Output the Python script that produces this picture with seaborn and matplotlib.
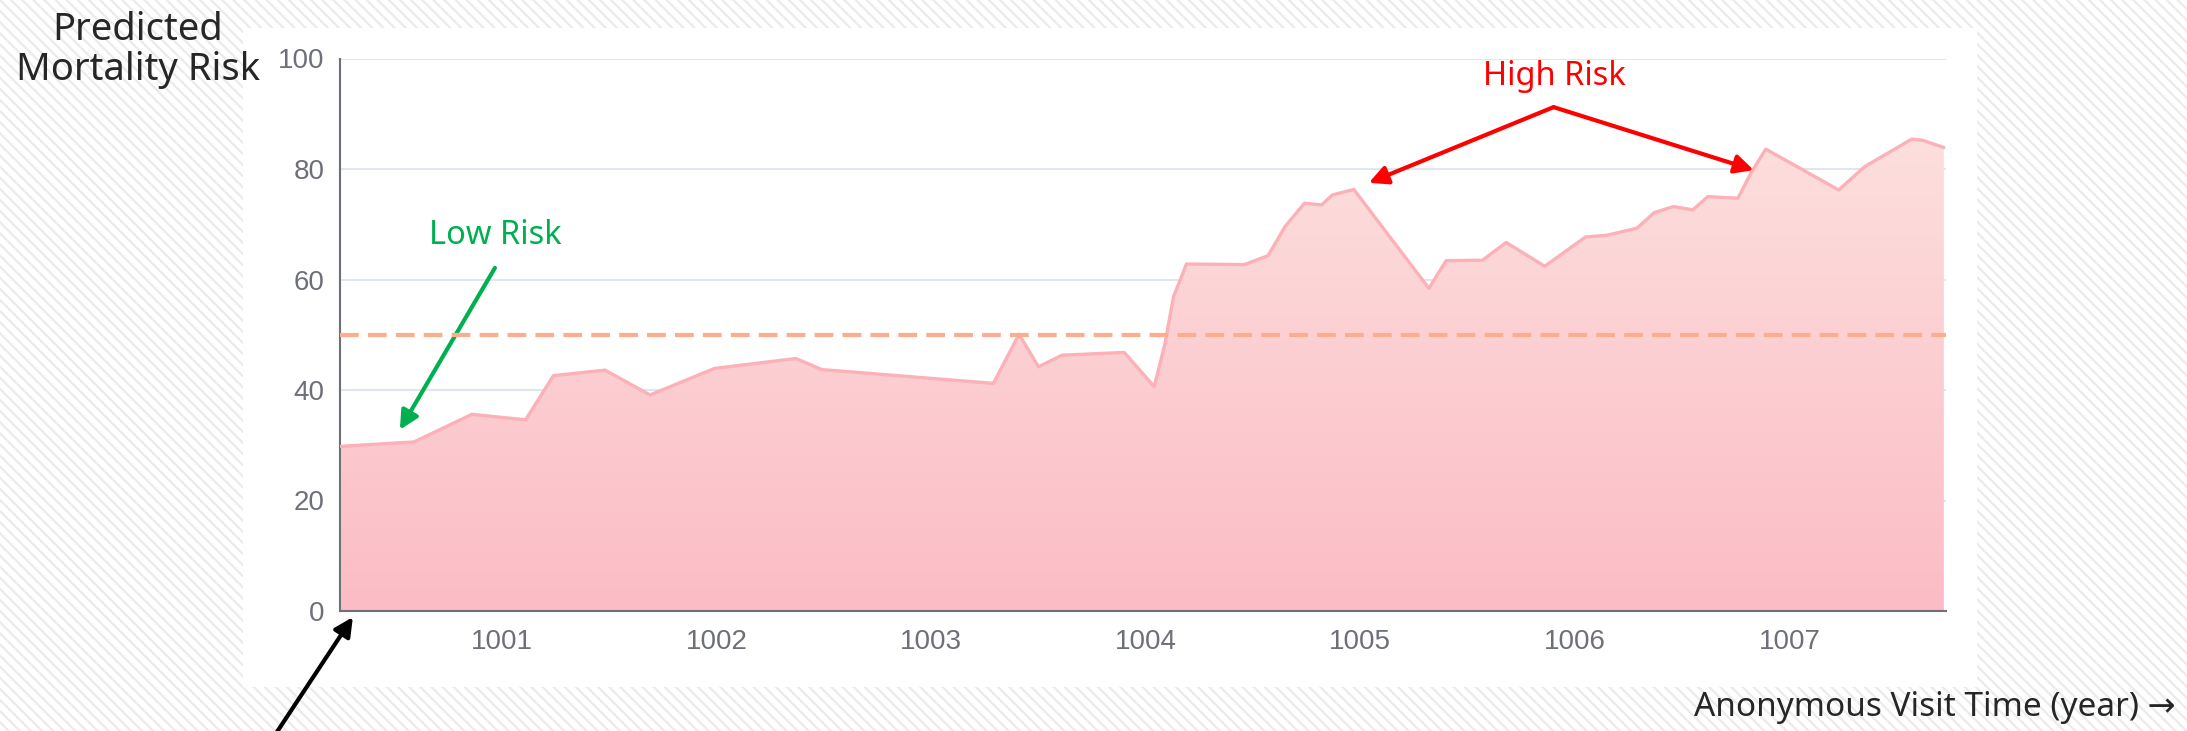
import numpy as np
import matplotlib
matplotlib.use('Agg')
import matplotlib.pyplot as plt
import seaborn as sns
from matplotlib.patches import Rectangle
from matplotlib.colors import LinearSegmentedColormap

# visit time (year) and predicted mortality risk
years = [1000.25, 1000.59, 1000.86, 1001.11, 1001.24, 1001.48, 1001.69, 1001.99,
         1002.37, 1002.49, 1003.29, 1003.41, 1003.50, 1003.61, 1003.90, 1004.04,
         1004.09, 1004.13, 1004.19, 1004.46, 1004.57, 1004.65, 1004.74, 1004.82,
         1004.87, 1004.97, 1005.32, 1005.40, 1005.57, 1005.68, 1005.86, 1006.05,
         1006.15, 1006.29, 1006.37, 1006.46, 1006.55, 1006.62, 1006.76, 1006.82,
         1006.89, 1007.23, 1007.35, 1007.57, 1007.62, 1007.72]
risk = [29.8, 30.6, 35.6, 34.6, 42.6, 43.6, 39.1, 43.9,
        45.7, 43.7, 41.2, 50.1, 44.2, 46.3, 46.8, 40.6,
        48.4, 56.9, 62.8, 62.7, 64.3, 69.6, 73.8, 73.5,
        75.3, 76.3, 58.4, 63.4, 63.5, 66.7, 62.4, 67.7,
        68.0, 69.3, 72.1, 73.2, 72.6, 75.0, 74.7, 79.2,
        83.6, 76.2, 80.4, 85.4, 85.2, 83.9]
threshold = 50
year_ticks = [1001, 1002, 1003, 1004, 1005, 1006, 1007]
risk_ticks = [0, 20, 40, 60, 80, 100]
xmin, xmax = 1000.245, 1007.73

sns.set_style('white')
plt.rcParams['font.family'] = ['Noto Sans', 'DejaVu Sans']
plt.rcParams['hatch.linewidth'] = 1.6

W, H = 2187, 731
fig = plt.figure(figsize=(W / 100, H / 100), dpi=100)

# hatched backdrop + white chart panel
fig.add_artist(Rectangle((0, 0), 1, 1, transform=fig.transFigure, facecolor='white',
                         edgecolor='#ebebeb', hatch='\\\\\\', lw=0, zorder=-10))
fig.add_artist(Rectangle((243 / W, 1 - 687 / H), (1977 - 243) / W, (687 - 28) / H,
                         transform=fig.transFigure, facecolor='white', lw=0, zorder=-5))

ax = fig.add_axes([340 / W, 1 - 611 / H, (1946 - 340) / W, (611 - 58.5) / H])
ax.set_facecolor('none')

# gradient area under the curve
grad = np.linspace(0, 1, 256).reshape(-1, 1)
cmap = LinearSegmentedColormap.from_list('risk', ['#fbbcc5', '#fde5e1'])
im = ax.imshow(grad, extent=[xmin, xmax, 0, 100], origin='lower', aspect='auto',
               cmap=cmap, zorder=1)
area = ax.fill_between(years, risk, 0, facecolor='none', edgecolor='none')
im.set_clip_path(area.get_paths()[0], transform=ax.transData)

sns.lineplot(x=years, y=risk, ax=ax, color='#fbb1b7', lw=2.4, zorder=3)
ax.axhline(threshold, color='#fbae8f', lw=3, dashes=(4.5, 2.2), zorder=4)

ax.set_xlim(xmin, xmax)
ax.set_ylim(0, 100)
ax.set_xticks(year_ticks)
ax.set_yticks(risk_ticks)
ax.yaxis.grid(True, color='#6a80b8', alpha=0.2, lw=1.5)
ax.xaxis.grid(False)
for s in ['top', 'right']:
    ax.spines[s].set_visible(False)
for s in ['left', 'bottom']:
    ax.spines[s].set_color('#6e7079')
    ax.spines[s].set_linewidth(1.5)
ax.tick_params(axis='y', length=0, pad=11, labelsize=20, labelcolor='#6e7079')
ax.tick_params(axis='x', length=7, width=1.5, color='#6e7079', direction='out',
               pad=6, labelsize=20, labelcolor='#6e7079')
for lab in ax.get_xticklabels() + ax.get_yticklabels():
    lab.set_family('Liberation Sans')

# annotations
ax.text(1000.967, 67.9, 'Low Risk', color='#00b050', fontsize=23.5,
        ha='center', va='center')
ax.annotate('', xy=(1000.524, 32.8), xytext=(1000.967, 62.1),
            arrowprops=dict(arrowstyle='-|>', color='#00b050', lw=3,
                            mutation_scale=28, shrinkA=0, shrinkB=0))
ax.text(1005.906, 96.7, 'High Risk', color='#ff0000', fontsize=23.5,
        ha='center', va='center')
for tip in [(1005.04, 77.5), (1006.834, 79.8)]:
    ax.annotate('', xy=tip, xytext=(1005.901, 91.2),
                arrowprops=dict(arrowstyle='-|>', color='#ff0000', lw=3,
                                mutation_scale=28, shrinkA=0, shrinkB=0))
ax.annotate('', xy=(1000.305, -1.1), xytext=(999.951, -21.9), annotation_clip=False,
            arrowprops=dict(arrowstyle='-|>', color='black', lw=3,
                            mutation_scale=28, shrinkA=0, shrinkB=0))

fig.text(138 / W, 1 - 50 / H, 'Predicted\nMortality Risk', ha='center', va='center',
         fontsize=27.5, linespacing=1.08)
fig.text(2176 / W, 1 - 708 / H, 'Anonymous Visit Time (year) \u2192', ha='right',
         va='center', fontsize=24)

fig.savefig('out.png', dpi=100)
